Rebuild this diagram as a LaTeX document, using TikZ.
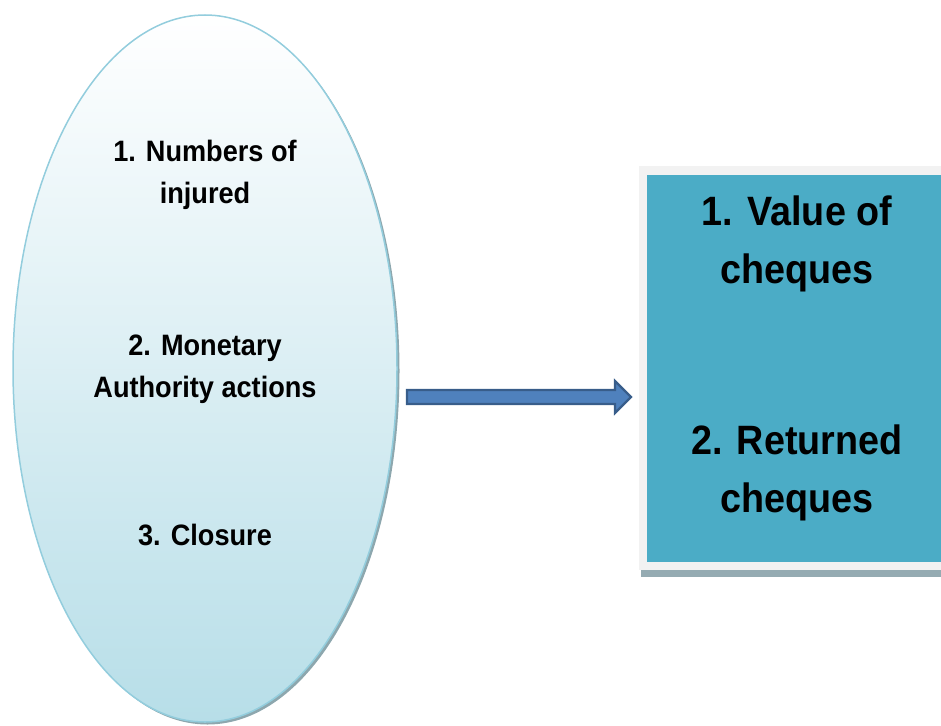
\documentclass[tikz,border=0pt]{standalone}
\usepackage{fontspec}
\setmainfont{Liberation Sans}
\newfontfamily\narrowfont[FakeStretch=0.92]{Liberation Sans}
\usetikzlibrary{shapes.geometric,calc}
\definecolor{ovalline}{HTML}{93CDDD}
\definecolor{ovalbot}{HTML}{B7DEE8}
\definecolor{ovalshadow}{HTML}{8DA7AE}
\definecolor{boxfill}{HTML}{4BACC6}
\definecolor{frame}{HTML}{F2F2F2}
\definecolor{boxshadow}{HTML}{95ABB2}
\definecolor{arrowfill}{HTML}{4F81BD}
\definecolor{arrowline}{HTML}{385D8A}
\tikzset{
  lefttext/.style={align=center, anchor=base, inner sep=0pt,
    font=\narrowfont\bfseries\fontsize{29.5}{42}\selectfont},
  righttext/.style={align=center, anchor=base, inner sep=0pt,
    font=\narrowfont\bfseries\fontsize{41}{57.5}\selectfont},
}
\begin{document}
\begin{tikzpicture}[x=1pt,y=-1pt]
\useasboundingbox (0,0) rectangle (941,725);
% ellipse shadow
\fill[ovalshadow] (207.5,371) ellipse [x radius=192, y radius=353.5];
% ellipse
\node[ellipse, draw=ovalline, line width=1.5pt, top color=white, bottom color=ovalbot,
      minimum width=384pt, minimum height=707pt, inner sep=0pt] (oval) at (205,368.5) {};
% box frame and shadow
\fill[boxshadow] (641,568) rectangle (945,577);
\node[fill=frame, minimum width=306pt, minimum height=404pt, inner sep=0pt, anchor=north west] (frame) at (639,166) {};
\node[fill=boxfill, minimum width=298pt, minimum height=387pt, inner sep=0pt, anchor=north west] (box) at (647,175) {};
% arrow
\draw[arrowline, fill=arrowfill, line width=2.2pt, line join=miter]
  (407,390) -- (615,390) -- (615,381) -- (631,397) -- (615,413) -- (615,404) -- (407,404) -- cycle;
% left texts (anchor = baseline of last line)
\node[lefttext] (t1) at (205,203) {1. Numbers of\\injured};
\node[lefttext] (t2) at (205,397) {2. Monetary\\Authority actions};
\node[lefttext] (t3) at (205,545) {3. Closure};
% right texts
\node[righttext] (r1) at (797,283) {1. Value of\\cheques};
\node[righttext] (r2) at (797,512) {2. Returned\\cheques};
\end{tikzpicture}
\end{document}
